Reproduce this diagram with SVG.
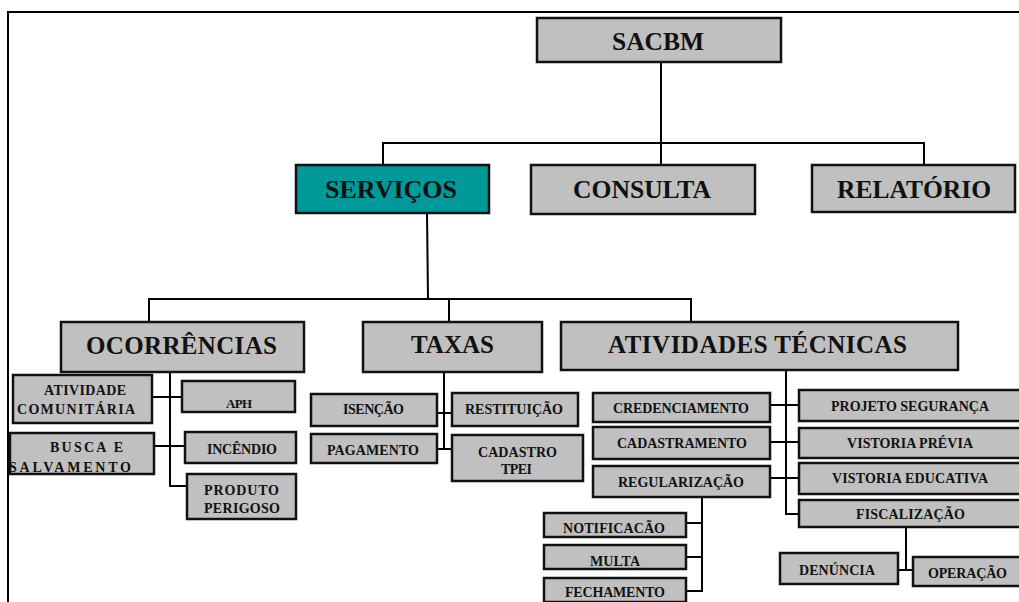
<svg xmlns="http://www.w3.org/2000/svg" width="1019" height="602" viewBox="0 0 1019 602">
<style>
.box{fill:#c0c0c0;stroke:#111;stroke-width:2.5}
.sel{fill:#009999;stroke:#111;stroke-width:2.5}
.t1{font-family:"Liberation Serif","Times New Roman",serif;font-weight:bold;font-size:25px;fill:#111}
.t3{font-family:"Liberation Serif","Times New Roman",serif;font-weight:bold;font-size:14px;fill:#111}
.ln{fill:none;stroke:#000;stroke-width:2}
</style>
<rect x="0" y="0" width="1019" height="602" fill="#fff"/>
<g id="frame"><path class="ln" d="M8 602V12H1019"/></g>
<g id="connectors">
<path class="ln" d="M661 62V165M383 165V143H924V165"/>
<path class="ln" d="M427 213L428 299M149 322V299H691V322M449 299V322"/>
<path class="ln" d="M170 372V486H187M152 397H182M154 446H185"/>
<path class="ln" d="M444 372V449M437 413H452M437 449H452"/>
<path class="ln" d="M786 370V514H799M770 405H799M770 442H799M770 478H799"/>
<path class="ln" d="M702 497V591H686M686 523H702M686 557H702"/>
<path class="ln" d="M906 527V570M898 570H913"/>
</g>
<g id="sacbm"><rect class="box" x="537" y="18" width="244" height="44"/><text class="t1" x="612" y="50" textLength="92" lengthAdjust="spacingAndGlyphs">SACBM</text></g>
<g id="servicos"><rect class="sel" x="296" y="165" width="193" height="48"/><text class="t1" x="325" y="198" textLength="132" lengthAdjust="spacingAndGlyphs">SERVIÇOS</text></g>
<g id="consulta"><rect class="box" x="531" y="165" width="224" height="49"/><text class="t1" x="573" y="198" textLength="138" lengthAdjust="spacingAndGlyphs">CONSULTA</text></g>
<g id="relatorio"><rect class="box" x="812" y="165" width="203" height="47"/><text class="t1" x="837" y="198" textLength="154" lengthAdjust="spacingAndGlyphs">RELATÓRIO</text></g>
<g id="ocorrencias"><rect class="box" x="61" y="322" width="243" height="50"/><text class="t1" x="86" y="354" textLength="191">OCORRÊNCIAS</text></g>
<g id="taxas"><rect class="box" x="363" y="322" width="179" height="50"/><text class="t1" x="411" y="353" textLength="83">TAXAS</text></g>
<g id="atividades-tecnicas"><rect class="box" x="561" y="322" width="397" height="48"/><text class="t1" x="608" y="353" textLength="299">ATIVIDADES TÉCNICAS</text></g>
<g id="atividade-comunitaria"><rect class="box" x="13" y="375" width="139" height="48"/><text class="t3" x="44" y="395" textLength="82">ATIVIDADE</text><text class="t3" x="17" y="414" textLength="118">COMUNITÁRIA</text></g>
<g id="aph"><rect class="box" x="182" y="381" width="113" height="31"/><text class="t3" x="226" y="408" textLength="26" style="font-size:13px">APH</text></g>
<g id="busca"><rect class="box" x="10" y="433" width="144" height="41"/><text class="t3" x="50" y="452" textLength="73">BUSCA E</text><text class="t3" x="9" y="472" textLength="122">SALVAMENTO</text></g>
<g id="incendio"><rect class="box" x="185" y="432" width="111" height="31"/><text class="t3" x="207" y="454" textLength="70">INCÊNDIO</text></g>
<g id="produto"><rect class="box" x="187" y="474" width="109" height="45"/><text class="t3" x="204" y="495" textLength="75">PRODUTO</text><text class="t3" x="204" y="513" textLength="76">PERIGOSO</text></g>
<g id="isencao"><rect class="box" x="311" y="394" width="126" height="32"/><text class="t3" x="343" y="414" textLength="61">ISENÇÃO</text></g>
<g id="restituicao"><rect class="box" x="452" y="393" width="126" height="33"/><text class="t3" x="465" y="414" textLength="98">RESTITUIÇÃO</text></g>
<g id="pagamento"><rect class="box" x="311" y="434" width="126" height="29"/><text class="t3" x="327" y="455" textLength="92">PAGAMENTO</text></g>
<g id="cadastro-tpei"><rect class="box" x="452" y="435" width="131" height="46"/><text class="t3" x="478" y="457" textLength="79">CADASTRO</text><text class="t3" x="501" y="474" textLength="31">TPEI</text></g>
<g id="credenciamento"><rect class="box" x="593" y="393" width="177" height="29"/><text class="t3" x="613" y="413" textLength="136">CREDENCIAMENTO</text></g>
<g id="cadastramento"><rect class="box" x="593" y="427" width="177" height="32"/><text class="t3" x="617" y="448" textLength="130">CADASTRAMENTO</text></g>
<g id="regularizacao"><rect class="box" x="593" y="466" width="177" height="31"/><text class="t3" x="618" y="487" textLength="126">REGULARIZAÇÃO</text></g>
<g id="projeto"><rect class="box" x="799" y="390" width="225" height="31"/><text class="t3" x="831" y="411" textLength="158">PROJETO SEGURANÇA</text></g>
<g id="vistoria-previa"><rect class="box" x="799" y="428" width="225" height="30"/><text class="t3" x="847" y="448" textLength="126">VISTORIA PRÉVIA</text></g>
<g id="vistoria-educativa"><rect class="box" x="799" y="463" width="225" height="31"/><text class="t3" x="832" y="483" textLength="156">VISTORIA EDUCATIVA</text></g>
<g id="fiscalizacao"><rect class="box" x="799" y="500" width="225" height="27"/><text class="t3" x="856" y="519" textLength="109">FISCALIZAÇÃO</text></g>
<g id="notificacao"><rect class="box" x="544" y="513" width="142" height="24"/><text class="t3" x="563" y="533" textLength="102">NOTIFICACÃO</text></g>
<g id="multa"><rect class="box" x="544" y="545" width="142" height="24"/><text class="t3" x="590" y="566" textLength="50">MULTA</text></g>
<g id="fechamento"><rect class="box" x="544" y="578" width="142" height="24"/><text class="t3" x="565" y="597" textLength="100">FECHAMENTO</text></g>
<g id="denuncia"><rect class="box" x="780" y="553" width="118" height="31"/><text class="t3" x="799" y="575" textLength="76">DENÚNCIA</text></g>
<g id="operacao"><rect class="box" x="913" y="557" width="111" height="29"/><text class="t3" x="928" y="578" textLength="79">OPERAÇÃO</text></g>
</svg>
